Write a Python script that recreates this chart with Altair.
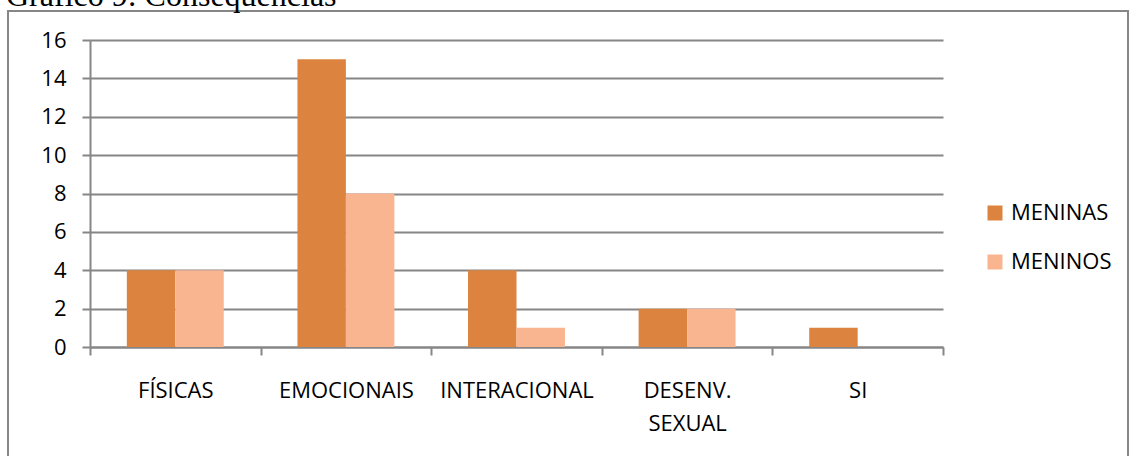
import altair as alt
import pandas as pd

# Consequences reported, by category and group
categorias = ["FÍSICAS", "EMOCIONAIS", "INTERACIONAL", "DESENV. SEXUAL", "SI"]
meninas = [4, 15, 4, 2, 1]
meninos = [4, 8, 1, 2, 0]
grupos = ["MENINAS", "MENINOS"]
cores = ["#DC843F", "#F9B590"]
y_ticks = [0, 2, 4, 6, 8, 10, 12, 14, 16]

rows = []
for i, cat in enumerate(categorias):
    rows.append({"categoria": cat, "grupo": "MENINAS", "valor": meninas[i]})
    rows.append({"categoria": cat, "grupo": "MENINOS", "valor": meninos[i]})
df = pd.DataFrame(rows)

FONT = "Open Sans"
FS = 22
W, H = 853, 307

label_expr = "datum.value == 'DESENV. SEXUAL' ? ['DESENV.', 'SEXUAL'] : datum.value"

bars = alt.Chart(df).mark_bar().encode(
    x=alt.X(
        "categoria:N",
        sort=categorias,
        scale=alt.Scale(paddingInner=0, paddingOuter=0),
        axis=alt.Axis(
            title=None,
            labelAngle=0,
            labelFont=FONT,
            labelFontSize=FS,
            labelColor="#000000",
            labelPadding=25,
            labelLineHeight=33,
            labelExpr=label_expr,
            domainColor="#868686",
            domainWidth=2,
            tickColor="#868686",
            tickWidth=2,
            tickSize=8,
            tickBand="extent",
            grid=False,
        ),
    ),
    xOffset=alt.XOffset(
        "grupo:N",
        sort=grupos,
        scale=alt.Scale(paddingInner=0, paddingOuter=0.76),
    ),
    y=alt.Y(
        "valor:Q",
        scale=alt.Scale(domain=[0, 16], nice=False),
        axis=alt.Axis(
            title=None,
            values=y_ticks,
            labelFont=FONT,
            labelFontSize=FS,
            labelColor="#000000",
            labelPadding=16,
            domainColor="#868686",
            domainWidth=2,
            tickColor="#868686",
            tickWidth=2,
            tickSize=8,
            gridColor="#868686",
            gridWidth=2,
        ),
    ),
    color=alt.Color(
        "grupo:N",
        sort=grupos,
        scale=alt.Scale(domain=grupos, range=cores),
        legend=alt.Legend(
            title=None,
            orient="none",
            legendX=894,
            legendY=162,
            symbolType="square",
            symbolSize=225,
            symbolStrokeWidth=0,
            labelFont=FONT,
            labelFontSize=FS,
            labelColor="#000000",
            rowPadding=27,
            labelOffset=5,
        ),
    ),
)

# outer frame around the chart
frame = alt.Chart(pd.DataFrame({"k": [0]})).mark_rect(
    fill=None, stroke="#868686", strokeWidth=2
).encode(
    x=alt.value(-82), x2=alt.value(1038),
    y=alt.value(-29), y2=alt.value(440),
)

# caption above the frame
caption = alt.Chart(pd.DataFrame({"t": ["Gráfico 9: Consequências"]})).mark_text(
    font="Liberation Serif", fontSize=32, align="left", baseline="alphabetic",
    color="#000000",
).encode(
    text="t:N",
    x=alt.value(-84),
    y=alt.value(-34),
)

chart = alt.layer(frame, bars, caption).properties(
    width=W,
    height=H,
    padding={"left": 90, "top": 40, "right": 187, "bottom": 109},
    autosize=alt.AutoSizeParams(type="none"),
    background="#FFFFFF",
).configure_view(stroke=None)

chart.save("out.html", embed_options={"renderer": "svg", "actions": False})
